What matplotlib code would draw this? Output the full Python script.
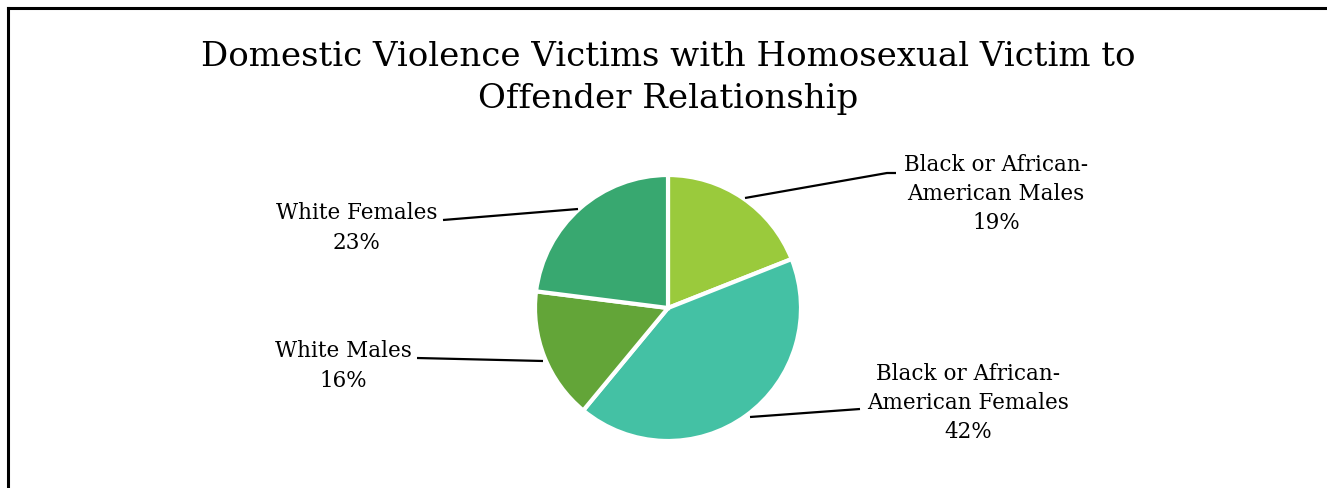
import matplotlib
matplotlib.use("Agg")
import matplotlib.pyplot as plt
from matplotlib.lines import Line2D

# Data
categories = ["Black or African-\nAmerican Males",
              "Black or African-\nAmerican Females",
              "White Males",
              "White Females"]
values = [19, 42, 16, 23]
colors = ["#9ACA3C", "#44C1A4", "#63A538", "#38A870"]

W, H = 1327, 488
fig = plt.figure(figsize=(W / 100, H / 100), dpi=100)
ax = fig.add_axes([0, 0, 1, 1])

FONT = "DejaVu Serif"

# Frame (left and top edges visible)
fig.add_artist(Line2D([8 / W, 8 / W], [0, 1 - 8 / H], transform=fig.transFigure,
                      color="black", lw=2.2))
fig.add_artist(Line2D([8 / W, 1], [1 - 8 / H, 1 - 8 / H], transform=fig.transFigure,
                      color="black", lw=2.2))

# Title
ax.text(668, H - 78, "Domestic Violence Victims with Homosexual Victim to\nOffender Relationship",
        ha="center", va="center", fontsize=24.5, family=FONT, linespacing=1.38)

# Pie
cx, cy, r = 668, H - 308, 133
ax.pie(values, colors=colors, startangle=90, counterclock=False,
       center=(cx, cy), radius=r, frame=True,
       wedgeprops=dict(edgecolor="white", linewidth=3))
ax.set_xlim(0, W)
ax.set_ylim(0, H)
ax.set_aspect("equal")
ax.axis("off")

# Labels with leader lines
label_pos = [(996, H - 194), (968, H - 403), (343, H - 366), (357, H - 228)]
leaders = [
    [(745, 198), (887, 173), (896, 173)],
    [(750, 417), (860, 409)],
    [(543, 361), (417, 358)],
    [(578, 209), (443, 220)],
]
total = sum(values)
for cat, v, (lx, ly), pts in zip(categories, values, label_pos, leaders):
    ax.text(lx, ly, f"{cat}\n{round(100 * v / total)}%", ha="center", va="center",
            fontsize=15.5, family=FONT, linespacing=1.42)
    xs = [p[0] for p in pts]
    ys = [H - p[1] for p in pts]
    ax.plot(xs, ys, color="black", lw=1.6, solid_capstyle="butt")

fig.savefig("out.png", dpi=100, facecolor="white")
